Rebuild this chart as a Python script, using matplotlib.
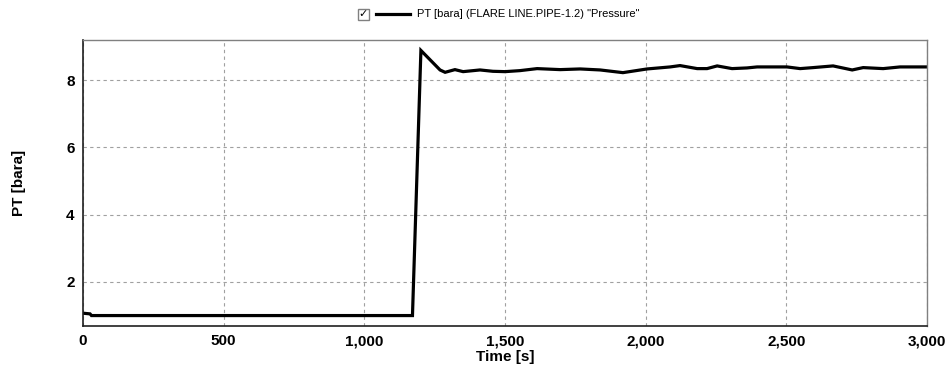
import matplotlib
matplotlib.use("Agg")
import matplotlib.pyplot as plt
from matplotlib.patches import Rectangle

plt.rcParams["font.family"] = ["Liberation Sans", "DejaVu Sans"]

# ── Data ──────────────────────────────────────────────────────────────────────
time_s = [0, 25, 30, 1171, 1201, 1269, 1287, 1322, 1351, 1411, 1457, 1500,
          1553, 1614, 1696, 1767, 1838, 1919, 2005, 2087, 2122, 2183, 2218,
          2254, 2307, 2360, 2396, 2502, 2549, 2595, 2666, 2734, 2773, 2844,
          2904, 3000]
pressure = [1.07, 1.05, 1.0, 1.0, 8.88, 8.30, 8.23, 8.31, 8.25, 8.30, 8.26,
            8.25, 8.28, 8.34, 8.31, 8.33, 8.30, 8.22, 8.33, 8.39, 8.43, 8.34,
            8.34, 8.42, 8.34, 8.36, 8.39, 8.39, 8.34, 8.37, 8.42, 8.30, 8.37,
            8.34, 8.39, 8.39]

X_TICKS = [0, 500, 1000, 1500, 2000, 2500, 3000]
Y_TICKS = [2, 4, 6, 8]
LEGEND_TEXT = 'PT [bara] (FLARE LINE.PIPE-1.2) "Pressure"'

# ── Figure ────────────────────────────────────────────────────────────────────
fig = plt.figure(figsize=(9.51, 3.75), dpi=100)
ax = fig.add_axes([0.0873, 0.1307, 0.8875, 0.7626])

ax.plot(time_s, pressure, color="black", lw=2.3, solid_joinstyle="miter")

ax.set_xlim(0, 3000)
ax.set_ylim(0.69, 9.19)
ax.set_xticks(X_TICKS)
ax.set_xticklabels([f"{t:,}" for t in X_TICKS])
ax.set_yticks(Y_TICKS)
ax.tick_params(labelsize=11, length=0, pad=6)
for lbl in ax.get_xticklabels() + ax.get_yticklabels():
    lbl.set_fontweight("bold")

ax.grid(True, color="#a0a0a0", ls=(0, (3, 3)), lw=0.8)
for side in ["left", "bottom"]:
    ax.spines[side].set_color("#202020")
    ax.spines[side].set_linewidth(1.2)
for side in ["top", "right"]:
    ax.spines[side].set_color("#808080")
    ax.spines[side].set_linewidth(1.0)

ax.set_xlabel("Time [s]", fontsize=11, fontweight="bold", labelpad=1)
ax.set_ylabel("PT [bara]", fontsize=11, fontweight="bold", labelpad=29)

# ── Legend strip at the top ───────────────────────────────────────────────────
fig.patches.append(Rectangle((358 / 951, 1 - 20 / 375), 11 / 951, 11 / 375,
                             transform=fig.transFigure, fill=False,
                             edgecolor="#808080", lw=1))
fig.text(363.5 / 951, 1 - 14.5 / 375, "✓", family="DejaVu Sans", fontsize=8,
         ha="center", va="center", fontweight="bold")
fig.lines.append(plt.Line2D([376 / 951, 410 / 951], [1 - 14 / 375, 1 - 14 / 375],
                            transform=fig.transFigure, color="black", lw=2.3))
fig.text(417 / 951, 1 - 14 / 375, LEGEND_TEXT, fontsize=8, va="center")

fig.savefig("out.png", dpi=100)
